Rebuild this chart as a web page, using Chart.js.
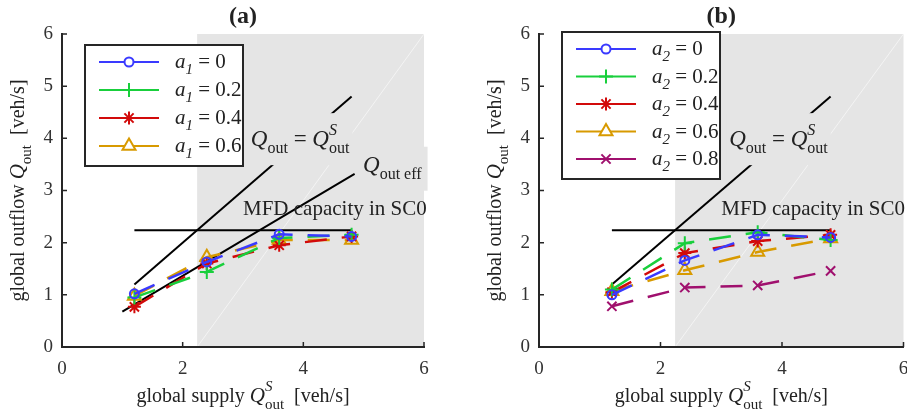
<!DOCTYPE html>
<html>
<head>
<meta charset="utf-8">
<script src="https://cdn.jsdelivr.net/npm/chart.js@4.4.1/dist/chart.umd.min.js"></script>
<style>
  html, body { margin: 0; padding: 0; background: #fff; }
  #wrap { position: relative; width: 907px; height: 419px; overflow: hidden; }
  canvas { position: absolute; top: 0; }
</style>
</head>
<body>
<div id="wrap">
  <canvas id="chartA" width="453" height="419" style="left:0"></canvas>
  <canvas id="chartB" width="436" height="419" style="left:477px"></canvas>
</div>
<script>
// global supply values (x)
const supplyQ = [1.2, 2.4, 3.6, 4.8];

// panel (a): varying a1
const a1Values = ['0', '0.2', '0.4', '0.6'];
const outA_0   = [1.02, 1.63, 2.16, 2.12];
const outA_02  = [0.95, 1.44, 2.09, 2.15];
const outA_04  = [0.77, 1.60, 1.95, 2.12];
const outA_06  = [0.98, 1.72, 2.05, 2.05];

// panel (b): varying a2
const a2Values = ['0', '0.2', '0.4', '0.6', '0.8'];
const outB_0   = [1.00, 1.66, 2.15, 2.10];
const outB_02  = [1.10, 1.99, 2.20, 2.05];
const outB_04  = [1.05, 1.80, 2.03, 2.15];
const outB_06  = [1.07, 1.47, 1.82, 2.08];
const outB_08  = [0.78, 1.14, 1.18, 1.46];

// reference lines
const capacityMFD = 2.24;
const capX  = [1.2, 4.8];
const idX   = [1.2, 4.8];
const effX  = [1.0, 4.85];
const effY  = [0.68, 3.32];
const congestedFrom = 2.24;   // shaded region starts here
const ticksX = [0, 2, 4, 6];
const ticksY = [0, 1, 2, 3, 4, 5, 6];

const SERIF = '"Liberation Serif", "Times New Roman", serif';
const COLORS  = ['#3a3aff', '#19cf3c', '#d20a0a', '#d89a00', '#a0106e'];
const MARKERS = ['circle', 'cross', 'star', 'triangle', 'crossRot'];
const RADII   = [4.5, 7, 6.5, 7.5, 6.5];

function f(size, style) { return (style || '') + ' ' + size + 'px ' + SERIF; }

// parts: [text, font, dy, noAdvance]
function richWidth(ctx, parts) {
  let w = 0;
  parts.forEach(p => { ctx.font = p[1]; if (!p[3]) w += ctx.measureText(p[0]).width; });
  return w;
}
function drawRich(ctx, parts, x, y, align) {
  const w = richWidth(ctx, parts);
  let cx = align === 'center' ? x - w / 2 : (align === 'right' ? x - w : x);
  parts.forEach(p => {
    ctx.font = p[1];
    ctx.fillText(p[0], cx, y + (p[2] || 0));
    if (!p[3]) cx += ctx.measureText(p[0]).width;
  });
  return w;
}

function qOut(extra, big) {
  const s = big ? 23 : 21, ss = big ? 16 : 15;
  return [['Q', f(s, 'italic')], [extra ? 'out ' + extra : 'out', f(ss), 7]];
}
function qSupply(big) {
  const s = big ? 23 : 21, ss = big ? 16 : 15;
  return [['Q', f(s, 'italic')], ['S', f(ss, 'italic'), -11, true], ['out', f(ss), 7]];
}

function seriesSets(values, labels) {
  return values.map((v, i) => ({
    label: labels[i],
    data: supplyQ.map((x, j) => ({ x: x, y: v[j] })),
    borderColor: COLORS[i],
    backgroundColor: 'rgba(0,0,0,0)',
    borderWidth: 2.5,
    borderDash: [22, 15],
    pointStyle: MARKERS[i],
    pointRadius: RADII[i],
    pointBorderWidth: 2,
    pointBorderColor: COLORS[i],
    pointBackgroundColor: 'rgba(0,0,0,0)',
    showLine: true,
    tension: 0
  }));
}

function refSet(xs, ys) {
  return {
    ref: true,
    data: xs.map((x, i) => ({ x: x, y: ys[i] })),
    borderColor: '#000', borderWidth: 2, pointRadius: 0, showLine: true, tension: 0
  };
}

function decoPlugin(cfg) {
  return {
    id: 'deco',
    beforeDraw(chart) {
      const { ctx, chartArea: a, scales: { x } } = chart;
      const x0 = x.getPixelForValue(congestedFrom);
      ctx.save();
      ctx.fillStyle = '#e5e5e5';
      ctx.fillRect(x0, a.top, a.right - x0, a.bottom - a.top);
      ctx.strokeStyle = 'rgba(255,255,255,0.7)';
      ctx.lineWidth = 0.8;
      ctx.beginPath();
      ctx.moveTo(x0, a.bottom);
      ctx.lineTo(a.right, a.top);
      ctx.stroke();
      ctx.restore();
    },
    afterDatasetsDraw(chart) {
      const { ctx, chartArea: a, scales: { x, y } } = chart;
      ctx.save();
      ctx.textBaseline = 'alphabetic';
      // Q_out = Q^S_out label, box hides the line behind it
      let lx = x.getPixelForValue(3.13), ly = y.getPixelForValue(3.85);
      const parts = qOut('', true).concat([[' = ', f(23)]]).concat(qSupply(true));
      const w = richWidth(ctx, parts);
      ctx.fillStyle = '#e5e5e5';
      ctx.fillRect(lx - 3, ly - 33, w + 6, 52);
      ctx.fillStyle = '#222';
      drawRich(ctx, parts, lx, ly, 'left');
      // Q_out eff label
      if (cfg.eff) {
        lx = x.getPixelForValue(4.99); ly = y.getPixelForValue(3.36);
        const p2 = qOut('eff', true);
        const w2 = richWidth(ctx, p2);
        ctx.fillStyle = '#e5e5e5';
        ctx.fillRect(lx - 7, ly - 25, w2 + 13, 44);
        ctx.fillStyle = '#222';
        drawRich(ctx, p2, lx, ly, 'left');
      }
      // MFD label
      ctx.font = f(21);
      ctx.fillText('MFD capacity in SC0', x.getPixelForValue(3.0), y.getPixelForValue(2.53));

      // legend
      const n = chart.data.datasets.filter(d => !d.ref).length;
      const bx = a.left + 23, by = a.top + cfg.legendTop;
      const bw = 158, bh = 17 + (n - 1) * cfg.rowH + 20;
      ctx.fillStyle = '#fff';
      ctx.fillRect(bx, by, bw, bh);
      ctx.strokeStyle = '#262626';
      ctx.lineWidth = 2;
      ctx.strokeRect(bx, by, bw, bh);
      chart.data.datasets.forEach((d, i) => {
        if (d.ref) return;
        const ry = by + 17 + i * cfg.rowH;
        ctx.strokeStyle = d.borderColor;
        ctx.lineWidth = 2;
        ctx.setLineDash([]);
        ctx.beginPath();
        ctx.moveTo(bx + 14, ry);
        ctx.lineTo(bx + 74, ry);
        ctx.stroke();
        ctx.fillStyle = '#fff';
        Chart.helpers.drawPoint(ctx, { pointStyle: d.pointStyle, radius: d.pointRadius, borderWidth: 2, rotation: 0 }, bx + 44, ry);
        ctx.fillStyle = '#222';
        drawRich(ctx, [['a', f(21, 'italic')], [cfg.sub, f(15, 'italic'), 6], [' = ' + d.label, f(21)]], bx + 90, ry + 6, 'left');
      });
      ctx.restore();
    },
    afterDraw(chart) {
      const { ctx, chartArea: a, scales: { x, y } } = chart;
      ctx.save();
      // inward tick marks
      ctx.strokeStyle = '#262626';
      ctx.lineWidth = 1.5;
      ctx.beginPath();
      ticksY.forEach(v => { const py = y.getPixelForValue(v); ctx.moveTo(a.left, py); ctx.lineTo(a.left + 5, py); });
      ticksX.forEach(v => { const px = x.getPixelForValue(v); ctx.moveTo(px, a.bottom); ctx.lineTo(px, a.bottom - 5); });
      ctx.stroke();
      ctx.fillStyle = '#222';
      ctx.textBaseline = 'alphabetic';
      // panel title
      ctx.font = f(24, 'bold');
      ctx.textAlign = 'center';
      ctx.fillText(cfg.title, (a.left + a.right) / 2, 23);
      ctx.textAlign = 'left';
      // x title
      drawRich(ctx, [['global supply ', f(20)]].concat(qSupply()).concat([['  [veh/s]', f(20)]]),
        (a.left + a.right) / 2, 402, 'center');
      // y title
      ctx.translate(cfg.yTitleX, (a.top + a.bottom) / 2);
      ctx.rotate(-Math.PI / 2);
      drawRich(ctx, [['global outflow ', f(20)]].concat(qOut()).concat([['  [veh/s]', f(20)]]), 0, 0, 'center');
      ctx.restore();
    }
  };
}

function makeChart(id, datasets, cfg) {
  return new Chart(document.getElementById(id), {
    type: 'scatter',
    data: { datasets: datasets },
    options: {
      responsive: false,
      animation: false,
      devicePixelRatio: 1,
      layout: { padding: { top: 34, right: cfg.padRight, left: 0, bottom: 0 } },
      plugins: { legend: { display: false }, tooltip: { enabled: false }, title: { display: false } },
      scales: {
        x: {
          type: 'linear', min: 0, max: 6,
          afterFit: s => { s.height = 72; s.paddingLeft = 0; s.paddingRight = 0; },
          afterBuildTicks: s => { s.ticks = ticksX.map(v => ({ value: v })); },
          grid: { display: false, drawTicks: false },
          border: { display: true, color: '#262626', width: 2 },
          ticks: { padding: 11, color: '#333', font: { family: SERIF, size: 19 } }
        },
        y: {
          type: 'linear', min: 0, max: 6,
          afterFit: s => { s.width = 62; s.paddingTop = 0; s.paddingBottom = 0; },
          afterBuildTicks: s => { s.ticks = ticksY.map(v => ({ value: v })); },
          grid: { display: false, drawTicks: false },
          border: { display: true, color: '#262626', width: 2 },
          ticks: { padding: 9, color: '#333', font: { family: SERIF, size: 19 } }
        }
      }
    },
    plugins: [decoPlugin(cfg)]
  });
}

const setsA = seriesSets([outA_0, outA_02, outA_04, outA_06], a1Values).concat([
  refSet(capX, capX.map(() => capacityMFD)),
  refSet(idX, idX),
  refSet(effX, effY)
]);
const setsB = seriesSets([outB_0, outB_02, outB_04, outB_06, outB_08], a2Values).concat([
  refSet(capX, capX.map(() => capacityMFD)),
  refSet(idX, idX)
]);

makeChart('chartA', setsA, { title: '(a)', sub: '1', eff: true, legendTop: 11, rowH: 28, padRight: 29, yTitleX: 24 });
makeChart('chartB', setsB, { title: '(b)', sub: '2', eff: false, legendTop: -2, rowH: 27.5, padRight: 4, yTitleX: 24 });
</script>
</body>
</html>
